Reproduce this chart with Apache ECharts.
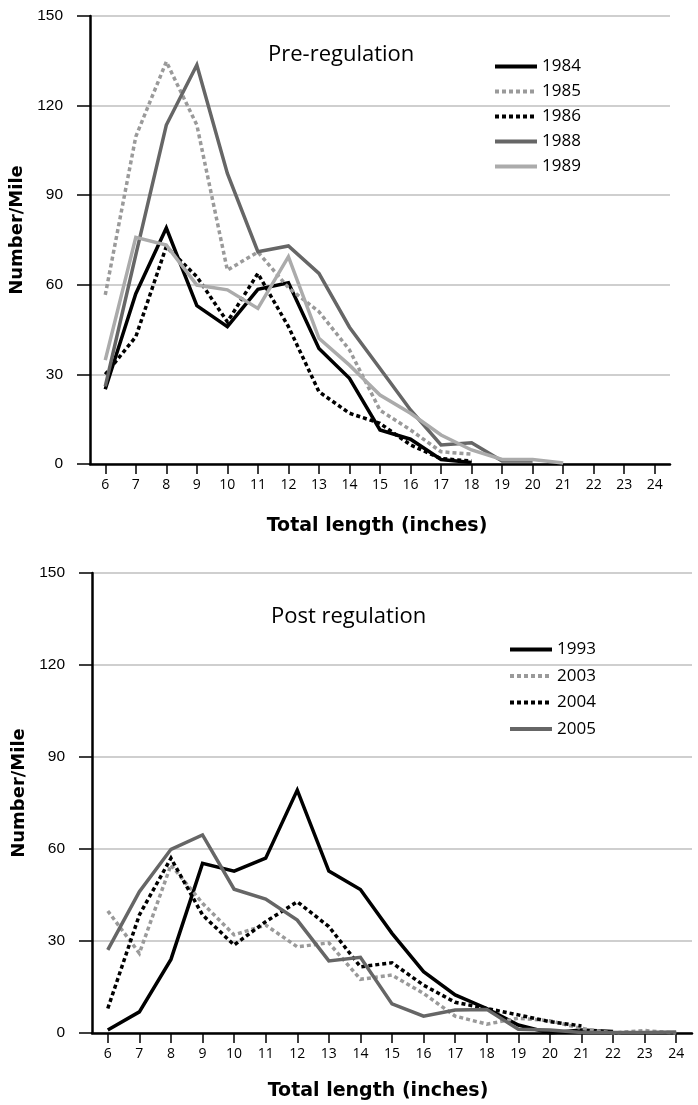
<!DOCTYPE html>
<html>
<head>
<meta charset="utf-8">
<script src="https://cdn.jsdelivr.net/npm/echarts@6/dist/echarts.min.js"></script>
<style>
html,body{margin:0;padding:0;background:#fff;}
#c{width:698px;height:1105px;}
</style>
</head>
<body>
<div id="c"></div>
<script>
// Categories: total length (inches)
const lengths = ['6','7','8','9','10','11','12','13','14','15','16','17','18','19','20','21','22','23','24'];
const yTicks = [0, 30, 60, 90, 120, 150];

// Pre-regulation (number/mile)
const y1984 = [25, 57, 79, 53, 46, 58.5, 60.7, 38.7, 28.7, 11.4, 8.3, 1.5, 0.5];
const y1985 = [56.6, 109.6, 134.7, 113.5, 64.9, 71, 59, 51, 38.2, 18, 11.4, 4.1, 3.3];
const y1986 = [30, 42.6, 72.8, 62.7, 47.6, 63.8, 46, 24.2, 17, 13.6, 6.4, 1.8, 1];
const y1988 = [26, 70, 113.5, 133.6, 97.3, 71.1, 73, 63.8, 45.8, 32, 18.1, 6.4, 7.1, 1, 1];
const y1989 = [34.8, 75.9, 73.3, 59.9, 58.3, 52.1, 69.4, 42.1, 33.1, 23.1, 17, 9.7, 4.7, 1.5, 1.5, 0.3];

// Post regulation (number/mile)
const y1993 = [1, 6.9, 24, 55.3, 52.8, 57, 79.2, 52.8, 46.8, 32.5, 20, 12.4, 8, 2.6, 0, 1, 0.5];
const y2003 = [39.8, 26, 54.8, 42.3, 32, 35.2, 28.1, 29.4, 17.5, 18.9, 12.9, 5.5, 2.9, 4.8, 4, 1.5, 0, 0.8, 0];
const y2004 = [8, 38.5, 57, 38.5, 28.7, 36.3, 42.8, 34.7, 21.6, 22.9, 15.6, 10, 8, 5.9, 3.7, 2.3];
const y2005 = [27.1, 46.1, 59.9, 64.6, 46.9, 43.7, 36.8, 23.5, 24.7, 9.5, 5.5, 7.5, 7.7, 1.2, 1, 0.2, 0.2, 0.2, 0.3];

const C_BLACK = '#000000', C_DOT = '#9a9a9a', C_DARK = '#666666', C_LIGHT = '#ababab';
const dash = [4, 3];

function mkSeries(name, data, color, dashed, gi) {
  return {
    name: name, type: 'line', data: data, xAxisIndex: gi, yAxisIndex: gi,
    symbol: 'none', smooth: false, z: 3,
    lineStyle: { color: color, width: 3.5, type: dashed ? dash : 'solid', cap: 'butt', join: 'miter' },
    itemStyle: { color: color }
  };
}

const tickFont = 'Liberation Sans, Arial, sans-serif';
const nameFont = 'DejaVu Sans, sans-serif';
const myriad = 'Open Sans, Noto Sans, sans-serif';

function xAxis(gi, nameGap, pad) {
  return {
    type: 'category', gridIndex: gi, data: lengths, boundaryGap: true,
    axisLine: { show: true, lineStyle: { color: '#000', width: 2.5 } },
    axisTick: { show: true, alignWithLabel: true, length: 10, lineStyle: { color: '#000', width: 1.5 } },
    axisLabel: { color: '#000', fontSize: 14, fontFamily: myriad, margin: 14, interval: 0 },
    splitLine: { show: false },
    name: 'Total length (inches)', nameLocation: 'middle', nameGap: nameGap,
    nameTextStyle: { color: '#000', fontSize: 19, fontWeight: 'bold', fontFamily: nameFont, padding: pad }
  };
}
function yAxis(gi) {
  return {
    type: 'value', gridIndex: gi, min: 0, max: 150, interval: 30,
    axisLine: { show: true, lineStyle: { color: '#000', width: 2.5 } },
    axisTick: { show: true, inside: false, length: 13, lineStyle: { color: '#000', width: 1.5 } },
    axisLabel: { color: '#000', fontSize: 15.5, fontFamily: tickFont, margin: 27,
      formatter: v => yTicks.indexOf(v) >= 0 ? String(v) : '' },
    splitLine: { show: true, lineStyle: { color: '#cfcfcf', width: 2 } },
    name: 'Number/Mile', nameLocation: 'middle', nameGap: 52, nameRotate: 90,
    nameTextStyle: { color: '#000', fontSize: 18, fontWeight: 'bold', fontFamily: nameFont, padding: [0, 0, 0, 20] }
  };
}

const legendCommon = {
  orient: 'vertical', padding: 0, itemWidth: 42, itemHeight: 14,
  textStyle: { fontSize: 17, color: '#000', fontFamily: myriad },
  itemStyle: { color: 'rgba(0,0,0,0)', borderColor: 'rgba(0,0,0,0)', borderWidth: 0, opacity: 0 },
  lineStyle: { width: 4 }
};

const chart = echarts.init(document.getElementById('c'), null, { renderer: 'canvas' });
chart.setOption({
  backgroundColor: '#fff',
  animation: false,
  title: [
    { text: 'Pre-regulation', left: 263, top: 39, textStyle: { fontSize: 22, fontWeight: 'normal', color: '#000', fontFamily: myriad } },
    { text: 'Post regulation', left: 266, top: 601, textStyle: { fontSize: 22, fontWeight: 'normal', color: '#000', fontFamily: myriad } }
  ],
  legend: [
    Object.assign({ data: ['1984', '1985', '1986', '1988', '1989'], left: 493, top: 58, itemGap: 8 }, legendCommon),
    Object.assign({ data: ['1993', '2003', '2004', '2005'], left: 508, top: 641, itemGap: 9.5 }, legendCommon)
  ],
  grid: [
    { left: 90, right: 28, top: 16, height: 448, containLabel: false },
    { left: 92, right: 6, top: 573, height: 460, containLabel: false }
  ],
  xAxis: [xAxis(0, 53, [0, 6, 0, 0]), xAxis(1, 49, [0, 28, 0, 0])],
  yAxis: [yAxis(0), yAxis(1)],
  series: [
    mkSeries('1984', y1984, C_BLACK, false, 0),
    mkSeries('1985', y1985, C_DOT, true, 0),
    mkSeries('1986', y1986, C_BLACK, true, 0),
    mkSeries('1988', y1988, C_DARK, false, 0),
    mkSeries('1989', y1989, C_LIGHT, false, 0),
    mkSeries('1993', y1993, C_BLACK, false, 1),
    mkSeries('2003', y2003, C_DOT, true, 1),
    mkSeries('2004', y2004, C_BLACK, true, 1),
    mkSeries('2005', y2005, C_DARK, false, 1)
  ]
});
</script>
</body>
</html>
